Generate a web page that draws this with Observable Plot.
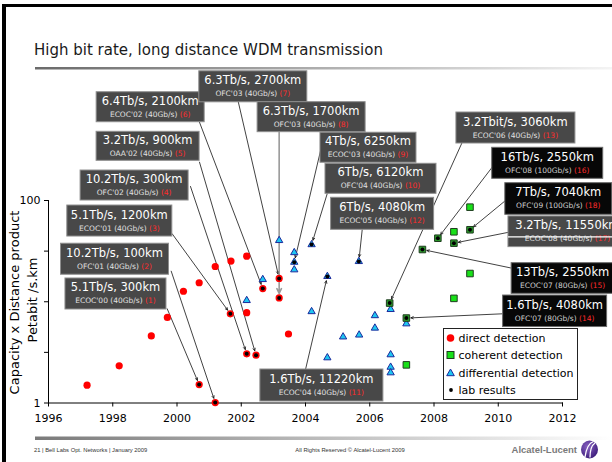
<!DOCTYPE html>
<html><head><meta charset="utf-8">
<script src="https://cdn.jsdelivr.net/npm/d3@7"></script>
<script src="https://cdn.jsdelivr.net/npm/@observablehq/plot@0.6"></script>
<style>
body{margin:0;background:#fff;}
#wrap{position:relative;width:612px;height:462px;overflow:hidden;font-family:"DejaVu Sans",sans-serif;background:#fff;}
#wrap > svg{position:absolute;left:0;top:0;}
</style></head><body><div id="wrap"></div>
<script>
// ---------- data (year, Petabit/s.km) ----------
const directYears = [1997.2, 1998.2, 1999.2, 1999.7, 2000.2, 2000.69, 2001.19, 2001.68, 2002.17, 2002.17, 2003.47];
const directValues = [1.5, 2.33, 4.6, 7.0, 12.7, 15.4, 22.3, 25.2, 28.2, 7.8, 4.8];
const coherentYears = [2009.12, 2008.62, 2009.12, 2008.62, 2007.14];
const coherentValues = [85.9, 49.1, 19.0, 10.8, 2.38];
const differentialYears = [2002.17, 2002.67, 2003.18, 2003.65, 2003.65, 2004.19, 2004.68, 2005.17, 2005.67, 2006.16, 2006.16, 2006.65, 2006.65, 2006.65, 2006.65, 2007.14];
const differentialValues = [10.3, 16.6, 40.3, 30.6, 20.7, 8.0, 2.8, 4.5, 4.7, 7.3, 5.5, 8.4, 3.0, 2.26, 1.99, 6.06];

// lab results (annotated)
const labYears = [2000.69, 2001.19, 2001.66, 2002.17, 2002.46, 2002.67, 2003.18, 2003.18, 2003.65, 2004.19, 2004.68, 2005.66, 2006.62, 2007.14, 2007.64, 2008.12, 2008.62, 2009.12];
const labValues = [1.52, 1.01, 7.6, 3.06, 2.97, 13.5, 17.0, 10.9, 24.6, 36.7, 17.8, 25.0, 9.7, 6.9, 32.8, 42.4, 37.9, 51.4];
const labTypes = ["direct","direct","direct","direct","direct","direct","direct","direct",
  "differential","differential","differential","differential",
  "coherent","coherent","coherent","coherent","coherent","coherent"];
const labRates = ["5.1Tb/s, 300km","10.2Tb/s, 100km","5.1Tb/s, 1200km","10.2Tb/s, 300km","3.2Tb/s, 900km",
  "6.4Tb/s, 2100km","6.3Tb/s, 2700km","6.3Tb/s, 1700km","4Tb/s, 6250km","6Tb/s, 6120km",
  "1.6Tb/s, 11220km","6Tb/s, 4080km","3.2Tbit/s, 3060km","1.6Tb/s, 4080km","13Tb/s, 2550km",
  "16Tb/s, 2550km","3.2Tb/s, 11550km","7Tb/s, 7040km"];
const labConfs = ["ECOC'00 (40Gb/s)","OFC'01 (40Gb/s)","ECOC'01 (40Gb/s)","OFC'02 (40Gb/s)","OAA'02 (40Gb/s)",
  "ECOC'02 (40Gb/s)","OFC'03 (40Gb/s)","OFC'03 (40Gb/s)","ECOC'03 (40Gb/s)","OFC'04 (40Gb/s)",
  "ECOC'04 (40Gb/s)","ECOC'05 (40Gb/s)","ECOC'06 (40Gb/s)","OFC'07 (80Gb/s)","ECOC'07 (80Gb/s)",
  "OFC'08 (100Gb/s)","ECOC'08 (40Gb/s)","OFC'09 (100Gb/s)"];
const labRefs = ["(1)","(2)","(3)","(4)","(5)","(6)","(7)","(8)","(9)","(10)","(11)","(12)","(13)","(14)","(15)","(16)","(17)","(18)"];

// axis ticks
const xTicks = [1996, 1998, 2000, 2002, 2004, 2006, 2008, 2010, 2012];
const yTicks = [1, 3.1623, 10, 31.623, 100];
const yTickLabels = ["1", "", "", "", "100"];

// ---------- annotation layout (data coordinates: year, value) ----------
const boxYears = [1998.10, 1998.07, 1998.22, 1998.68, 1999.10, 1999.18, 2002.375, 2004.19, 2005.96, 2006.35, 2004.51, 2006.40, 2010.55, 2011.77, 2012.02, 2011.54, 2012.17, 2011.885];
const boxValues = [11.93, 26.3, 62.7, 140.6, 343, 834, 1327, 665, 332, 163.8, 1.489, 73.9, 520, 8.05, 16.97, 233, 49.1, 103.5];
const boxWidths = [101, 108, 105, 108, 103, 108, 108, 108, 96, 111, 123, 103, 119, 104, 103, 111, 119, 107];
const boxHeights = [31, 31, 31, 30, 29, 30, 31, 30, 30, 30, 32, 32, 31, 31.5, 30.6, 31, 30.7, 31.6];
const boxDark = [0,0,0,0,0,0,0,0,0,0,0,0,0,1,1,1,0,1];
const boxStrike = [0,0,0,0,0,0,0,0,0,0,0,0,0,0,0,0,1,0];
const arrowYears = [1999.695, 1999.82, 1999.85, 2000.42, 2000.70, 2000.70, 2001.91, 2003.18, 2004.47, 2004.675, 2004.00, 2005.765, 2008.88, 2010.12, 2010.38, 2009.81, 2010.33, 2010.20];
const arrowValues = [8.52, 20.03, 46.9, 137.5, 239, 593, 935, 473, 312, 116.5, 2.14, 51.4, 376.7, 7.6, 21.6, 213, 48.6, 98.4];
const arrowGray = [0,0,0,0,0,0,0,1,0,0,0,0,0,0,0,0,0,0];

// ---------- tables ----------
const direct = directYears.map((x, i) => ({year: x, value: directValues[i]}));
const coherent = coherentYears.map((x, i) => ({year: x, value: coherentValues[i]}));
const differential = differentialYears.map((x, i) => ({year: x, value: differentialValues[i]}));
const labs = labYears.map((x, i) => ({
  year: x, value: labValues[i], type: labTypes[i], rate: labRates[i], conf: labConfs[i], ref: labRefs[i],
  bx: boxYears[i], by: boxValues[i], bw: boxWidths[i], bh: boxHeights[i], dark: boxDark[i], strike: boxStrike[i],
  ax: arrowYears[i], ay: arrowValues[i], gray: arrowGray[i]
}));

const RED = "#ff0000", GREEN = "#19e019", GREEN_S = "#1f3d1f", CYAN = "#1ec6f2", CYAN_S = "#1b2a9c";

function boxesMark(index, scales) {
  const sx = scales.x, sy = scales.y;
  const g = d3.create("svg:g");
  labs.forEach(d => {
    const cx = sx(d.bx), cy = sy(d.by);
    const gg = g.append("g").attr("transform", `translate(${cx},${cy})`);
    gg.append("rect").attr("x", -d.bw / 2).attr("y", -d.bh / 2).attr("width", d.bw).attr("height", d.bh)
      .attr("fill", d.dark ? "#070707" : "#484848").attr("stroke", d.dark ? "#6a6a6a" : "#8e8e8e").attr("stroke-width", 1);
    gg.append("text").attr("y", -6).attr("text-anchor", "middle").attr("dominant-baseline", "central")
      .attr("font-family", "DejaVu Sans").attr("font-size", "11.5px").attr("fill", "#ffffff").text(d.rate);
    const t2 = gg.append("text").attr("y", 7).attr("text-anchor", "middle").attr("dominant-baseline", "central")
      .attr("font-family", "DejaVu Sans").attr("font-size", "7.5px");
    t2.append("tspan").attr("fill", d.dark ? "#d0d0d0" : "#e0e0e0").text(d.conf + " ");
    t2.append("tspan").attr("fill", "#ff2b2b").text(d.ref);
    if (d.strike) {
      gg.append("line").attr("x1", -d.bw / 2).attr("x2", d.bw / 2).attr("y1", 5.5).attr("y2", 5.5)
        .attr("stroke", "#ffffff").attr("stroke-width", 1.2);
    }
  });
  return g.node();
}

const chart = Plot.plot({
  width: 612, height: 462,
  marginLeft: 48, marginRight: 50, marginTop: 200, marginBottom: 59.5,
  style: {fontFamily: "DejaVu Sans", fontSize: "11px", background: "transparent", color: "#000", overflow: "visible"},
  x: {domain: [1996, 2012], ticks: xTicks, tickFormat: d => String(d), tickSize: 4, tickPadding: 7, line: true, label: null},
  y: {type: "log", domain: [1, 100], ticks: yTicks, tickFormat: d => yTickLabels[yTicks.indexOf(d)] ?? "", tickSize: 4, tickPadding: 4, line: true, label: null},
  marks: [
    Plot.arrow(labs.filter(d => !d.gray), {x1: "ax", y1: "ay", x2: "year", y2: "value", stroke: "#111", strokeWidth: 0.8, headLength: 5, headAngle: 50, insetEnd: 4.5}),
    Plot.arrow(labs.filter(d => d.gray), {x1: "ax", y1: "ay", x2: "year", y2: "value", stroke: "#9a9a9a", strokeWidth: 1.6, headLength: 5, headAngle: 50, insetEnd: 4.5}),
    Plot.dot(direct, {x: "year", y: "value", r: 3.6, fill: RED}),
    Plot.dot(labs.filter(d => d.type === "direct"), {x: "year", y: "value", r: 3.6, fill: RED}),
    Plot.dot(differential, {x: "year", y: "value", symbol: "triangle", r: 2.7, fill: CYAN, stroke: CYAN_S, strokeWidth: 1}),
    Plot.dot(labs.filter(d => d.type === "differential"), {x: "year", y: "value", symbol: "triangle", r: 2.7, fill: CYAN, stroke: CYAN_S, strokeWidth: 1}),
    Plot.dot(coherent, {x: "year", y: "value", symbol: "square", r: 3.7, fill: GREEN, stroke: GREEN_S, strokeWidth: 1}),
    Plot.dot(labs.filter(d => d.type === "coherent"), {x: "year", y: "value", symbol: "square", r: 3.7, fill: "#2a9a2a", stroke: GREEN_S, strokeWidth: 1}),
    Plot.dot(labs, {x: "year", y: "value", r: 2, fill: "#000"}),
    boxesMark
  ]
});
const wrap = document.getElementById("wrap");
wrap.appendChild(chart);

// ---------- slide decoration, titles, legend ----------
const overlay = `
<svg width="612" height="462" xmlns="http://www.w3.org/2000/svg" style="pointer-events:none">
  <defs>
    <linearGradient id="gl" x1="0" x2="1" y1="0" y2="0">
      <stop offset="0" stop-color="#6a6a6a"/><stop offset="1" stop-color="#f4f4f4"/>
    </linearGradient>
    <linearGradient id="gf" x1="0" x2="1" y1="0" y2="0">
      <stop offset="0" stop-color="#7a7a7a"/><stop offset="1" stop-color="#ffffff"/>
    </linearGradient>
    <radialGradient id="logo" cx="0.4" cy="0.35" r="0.7">
      <stop offset="0" stop-color="#8a63c4"/><stop offset="1" stop-color="#3a1a78"/>
    </radialGradient>
  </defs>
  <rect x="2" y="4" width="610" height="3" fill="#000"/>
  <rect x="2" y="4" width="4" height="458" fill="#000"/>
  <text x="34" y="55" font-family="DejaVu Sans" font-size="15px" fill="#1a1a1a">High bit rate, long distance WDM transmission</text>
  <rect x="35" y="67" width="577" height="2.5" fill="url(#gl)"/>
  <text transform="translate(19,302.5) rotate(-90)" text-anchor="middle" font-family="DejaVu Sans" font-size="13px" fill="#000">Capacity x Distance product</text>
  <text transform="translate(37,300) rotate(-90)" text-anchor="middle" font-family="DejaVu Sans" font-size="13px" fill="#000">Petabit /s.km</text>
  <g transform="translate(443.5,328.5)">
    <rect x="0" y="0" width="134" height="71" fill="#fff" stroke="#222" stroke-width="1"/>
    <circle cx="7" cy="9.5" r="3.8" fill="${RED}"/>
    <rect x="3.5" y="23" width="7" height="7" fill="${GREEN}" stroke="${GREEN_S}" stroke-width="1"/>
    <path d="M7,40.5 L10.8,47.2 L3.2,47.2 Z" fill="${CYAN}" stroke="${CYAN_S}" stroke-width="1"/>
    <circle cx="7.5" cy="61.5" r="1.9" fill="#000"/>
    <g font-family="DejaVu Sans" font-size="11px" fill="#000">
      <text x="15" y="13.5">direct detection</text>
      <text x="15" y="30.5">coherent detection</text>
      <text x="15" y="48">differential detection</text>
      <text x="15" y="65.5">lab results</text>
    </g>
  </g>
  <rect x="35" y="436.5" width="577" height="3.5" fill="url(#gf)"/>
  <text x="34" y="452" font-family="Liberation Sans" font-size="5.8px" fill="#333">21 | Bell Labs Opt. Networks | January 2009</text>
  <text x="350" y="452" text-anchor="middle" font-family="Liberation Sans" font-size="5.8px" fill="#333">All Rights Reserved © Alcatel-Lucent 2009</text>
  <text x="577" y="453" text-anchor="end" font-family="Liberation Sans" font-size="9.5px" font-weight="bold" fill="#7a7a7a">Alcatel-Lucent</text>
  <ellipse cx="589.5" cy="449.5" rx="8.5" ry="9" fill="url(#logo)"/>
  <path d="M585,457 C586,450 589,443 593.5,441.5 M590,457.5 C590,451 592,445 595,443" stroke="#fff" stroke-width="1.3" fill="none"/>
</svg>`;
wrap.insertAdjacentHTML("beforeend", overlay);
</script>
</body></html>
